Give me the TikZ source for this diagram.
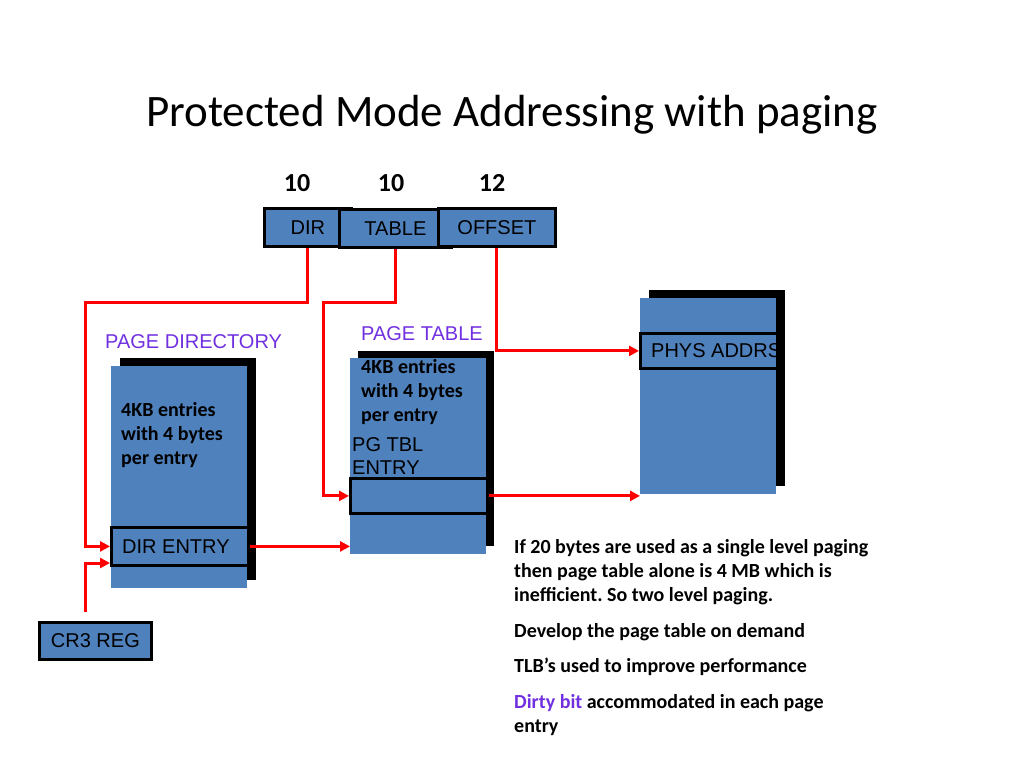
\documentclass[tikz,border=0pt]{standalone}
\usepackage{fontspec}
\setmainfont{Carlito}
\newfontfamily\arialf{Liberation Sans}
\usetikzlibrary{arrows.meta}
\definecolor{boxblue}{RGB}{79,129,189}
\definecolor{mypurple}{RGB}{112,48,224}
\frenchspacing
\begin{document}
\begin{tikzpicture}[x=1pt,y=-1pt,
  box/.style={draw=black, line width=2.8pt, fill=boxblue, inner sep=0pt, anchor=north west},
  plain/.style={fill=boxblue, draw=none, inner sep=0pt, anchor=north west},
  shade/.style={fill=black, draw=none, inner sep=0pt, anchor=north west},
  lbl/.style={font=\arialf\fontsize{20}{24}\selectfont, inner sep=0pt},
  bt/.style={font=\bfseries\fontsize{20}{24}\selectfont, inner sep=0pt, anchor=base west},
  num/.style={font=\bfseries\fontsize{26}{30}\selectfont, inner sep=0pt, anchor=base},
  wire/.style={red, line width=3pt},
  arr/.style={wire, -{Triangle[length=10pt,width=10pt]}}]
\useasboundingbox (0,0) rectangle (1024,768);

% title
\node[font=\fontsize{45}{54}\selectfont, inner sep=0pt, anchor=base] (title) at (512,126) {Protected Mode Addressing with paging};

% bit counts
\node[num] (n1) at (297,191.5) {10};
\node[num] (n2) at (391,191.5) {10};
\node[num] (n3) at (492,191.5) {12};

% address fields
\node[box, minimum width=87pt, minimum height=38pt, lbl, anchor=north west] (dir) at (263,207) {DIR};
\node[box, minimum width=112pt, minimum height=38pt, lbl, anchor=north west] (table) at (338,208) {TABLE};
\node[box, minimum width=117pt, minimum height=38pt, lbl, anchor=north west] (offset) at (437,207) {OFFSET};

% page directory
\node[lbl, anchor=base west, text=mypurple] (pdl) at (105,348) {PAGE DIRECTORY};
\node[shade, minimum width=136pt, minimum height=222pt] (pdsh) at (120,358) {};
\node[plain, minimum width=136pt, minimum height=222pt] (pd) at (111,366) {};
\node[bt] (pd1) at (121,416.5) {4KB entries};
\node[bt] (pd2) at (121,440.5) {with 4 bytes};
\node[bt] (pd3) at (121,464.5) {per entry};
\node[box, minimum width=137pt, minimum height=38pt] (dirent) at (110,526) {};
\node[lbl, anchor=base west] (direntt) at (122,553) {DIR ENTRY};

% page table
\node[lbl, anchor=base west, text=mypurple] (ptl) at (361,340) {PAGE TABLE};
\node[shade, minimum width=136pt, minimum height=195pt] (ptsh) at (358,351) {};
\node[plain, minimum width=136pt, minimum height=196pt] (pt) at (350,358) {};
\node[bt] (pt1) at (361,373.5) {4KB entries};
\node[bt] (pt2) at (361,397.5) {with 4 bytes};
\node[bt] (pt3) at (361,421.5) {per entry};
\node[lbl, anchor=base west] (pgt1) at (352,451) {PG TBL};
\node[lbl, anchor=base west] (pgt2) at (352,474) {ENTRY};
\node[box, minimum width=137pt, minimum height=35pt] (ptent) at (349,477) {};

% physical memory
\node[shade, minimum width=136pt, minimum height=196pt] (phsh) at (649,290) {};
\node[plain, minimum width=136pt, minimum height=196pt] (ph) at (640,298) {};
\node[box, minimum width=137pt, minimum height=35pt] (phent) at (639,332) {};
\begin{scope}
\clip (639,330) rectangle (777,370);
\node[lbl, anchor=base west] (phentt) at (651,357) {PHYS ADDRS};
\end{scope}

% CR3
\node[box, minimum width=112pt, minimum height=37pt, lbl] (cr3) at (38,621) {CR3 REG};

% connectors
\coordinate (j1) at (85,302);
\coordinate (j2) at (323,302);
\coordinate (j3) at (85,563);
\draw[arr] (dir.south) |- (j1) |- (dirent.west);
\draw[arr] (table.south) |- (j2) |- (ptent.west);
\draw[arr] (offset.south) |- (phent.west);
\draw[arr] (dirent.east) -- (pt.west |- dirent.east);
\draw[arr] (ptent.east) -- (ph.west |- ptent.east);
\draw[arr] ([yshift=9pt]j3 |- cr3.north) -- (j3) -- (dirent.west |- j3);

% notes
\node[bt] (b1) at (514,553.5) {If 20 bytes are used as a single level paging};
\node[bt] (b2) at (514,577.5) {then page table alone is 4 MB which is};
\node[bt] (b3) at (514,601.5) {inefficient. So two level paging.};
\node[bt] (b4) at (514,637.5) {Develop the page table on demand};
\node[bt] (b5) at (514,672.5) {TLB’s used to improve performance};
\node[bt] (b6) at (514,708.5) {\textcolor{mypurple}{Dirty bit} accommodated in each page};
\node[bt] (b7) at (514,732.5) {entry};
\end{tikzpicture}
\end{document}
